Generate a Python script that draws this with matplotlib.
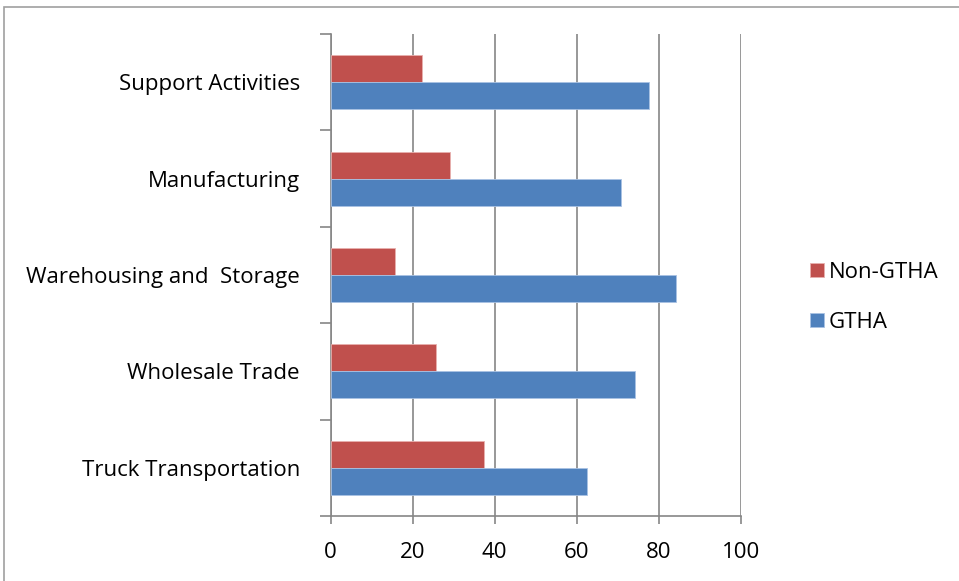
import matplotlib
matplotlib.use("Agg")
import matplotlib.pyplot as plt
from matplotlib.patches import Rectangle
import numpy as np

categories = ["Truck Transportation", "Wholesale Trade", "Warehousing and  Storage",
              "Manufacturing", "Support Activities"]
non_gtha = [37.4, 25.7, 15.8, 29.1, 22.3]
gtha = [62.6, 74.3, 84.2, 70.9, 77.7]
x_ticks = [0, 20, 40, 60, 80, 100]

RED = "#C0504D"
BLUE = "#4F81BD"
AXIS_GRAY = "#868686"
FS = 16

plt.rcParams["font.family"] = ["Open Sans", "DejaVu Sans"]

W, H = 959, 581
fig = plt.figure(figsize=(W / 100, H / 100), dpi=100)
fig.patch.set_facecolor("white")

# outer chart frame
fig.add_artist(Rectangle((4 / W, -0.05), 1.1, 1 - 7 / H + 0.05,
                         transform=fig.transFigure, fill=False,
                         edgecolor="#A0A0A0", linewidth=1.2))

ax = fig.add_axes([330.5 / W, 1 - 516 / H, (740.7 - 330.5) / W, (516 - 34) / H])

y = np.arange(len(categories))
h = 0.28
b_red = ax.barh(y + h / 2, non_gtha, height=h, color=RED, edgecolor="#E8B0AE",
                linewidth=0.6, label="Non-GTHA", zorder=3)
b_blue = ax.barh(y - h / 2, gtha, height=h, color=BLUE, edgecolor="#A9C2E3",
                 linewidth=0.6, label="GTHA", zorder=3)

ax.set_xlim(0, 100)
ax.set_ylim(-0.5, len(categories) - 0.5)
ax.set_xticks(x_ticks)
ax.set_xticklabels([str(v) for v in x_ticks], fontsize=FS)

# category boundaries carry the tick marks, labels sit at the centres
ax.set_yticks(np.arange(len(categories) + 1) - 0.5)
ax.set_yticklabels([])
ax.set_yticks(y, minor=True)
ax.set_yticklabels(categories, minor=True, fontsize=FS)
ax.tick_params(axis="y", which="major", length=8, width=1.2, color=AXIS_GRAY)
ax.tick_params(axis="y", which="minor", length=0, pad=22)
ax.tick_params(axis="x", length=6, width=1.2, color=AXIS_GRAY, pad=13)

ax.grid(axis="x", color=AXIS_GRAY, linewidth=1.2, zorder=0)
for side in ("top", "right"):
    ax.spines[side].set_visible(False)
for side in ("left", "bottom"):
    ax.spines[side].set_color(AXIS_GRAY)
    ax.spines[side].set_linewidth(1.2)

fig.legend(handles=[b_red, b_blue], labels=["Non-GTHA", "GTHA"],
           loc="upper left", bbox_to_anchor=(801 / W, 1 - 253 / H),
           frameon=False, fontsize=FS, handlelength=0.65, handleheight=0.65,
           handletextpad=0.2, labelspacing=1.3, borderaxespad=0)

fig.savefig("out.png", dpi=100)
